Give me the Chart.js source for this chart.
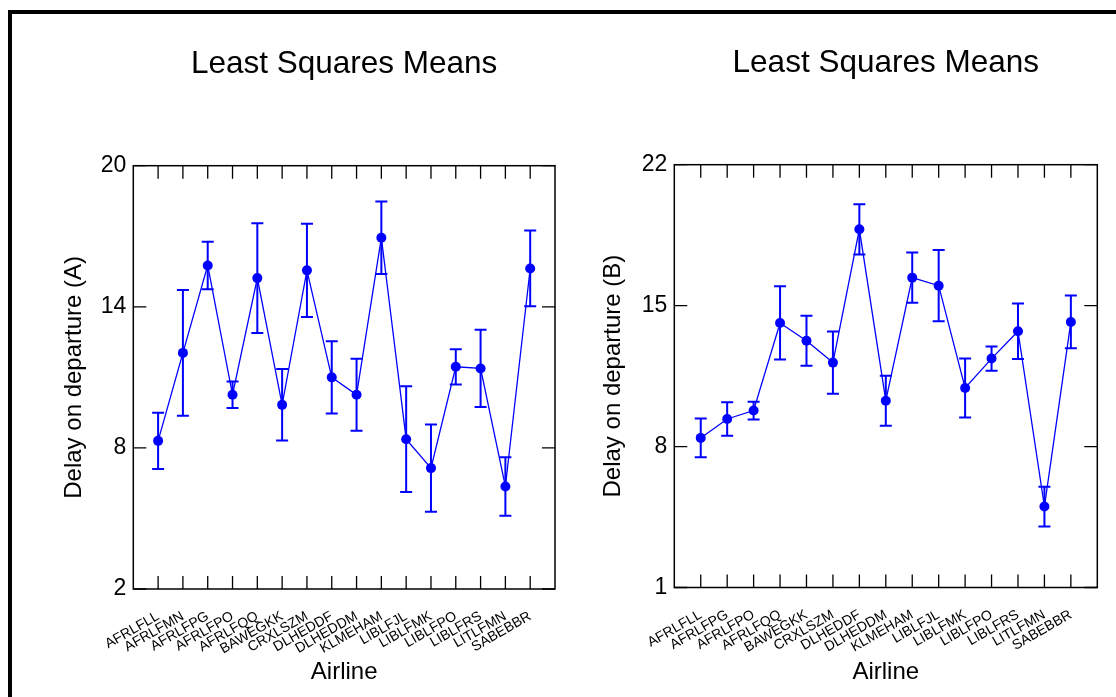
<!DOCTYPE html>
<html>
<head>
<meta charset="utf-8">
<script src="https://cdn.jsdelivr.net/npm/chart.js@4/dist/chart.umd.min.js"></script>
<style>
  html, body { margin: 0; padding: 0; background: #fff; overflow: hidden; }
  #page { position: relative; width: 1116px; height: 697px; }
  canvas { position: absolute; top: 0; }
  #frame {
    position: absolute; left: 8px; top: 10px; width: 1120px; height: 700px;
    border: 4px solid #000; pointer-events: none;
  }
</style>
</head>
<body>
<div id="page">
  <canvas id="chartA" width="560" height="697" style="left:0;width:560px;height:697px"></canvas>
  <canvas id="chartB" width="556" height="697" style="left:560px;width:556px;height:697px"></canvas>
  <div id="frame"></div>
</div>
<script>
/**************************************************
 DATA
**************************************************/
const airlinesA = ["AFRLFLL","AFRLFMN","AFRLFPG","AFRLFPO","AFRLFQQ","BAWEGKK","CRXLSZM","DLHEDDF",
                   "DLHEDDM","KLMEHAM","LIBLFJL","LIBLFMK","LIBLFPO","LIBLFRS","LITLFMN","SABEBBR"];
const meansA = [8.30, 12.04, 15.76, 10.26, 15.22, 9.83, 15.55, 11.00, 10.26, 16.94, 8.37, 7.14, 11.45, 11.38, 6.36, 15.63];
const errA   = [1.20, 2.67, 1.01, 0.56, 2.33, 1.52, 1.98, 1.54, 1.53, 1.54, 2.25, 1.86, 0.75, 1.64, 1.24, 1.61];
const yTicksA = [2, 8, 14, 20];

const airlinesB = ["AFRLFLL","AFRLFPG","AFRLFPO","AFRLFQQ","BAWEGKK","CRXLSZM","DLHEDDF","DLHEDDM",
                   "KLMEHAM","LIBLFJL","LIBLFMK","LIBLFPO","LIBLFRS","LITLFMN","SABEBBR"];
const meansB = [8.43, 9.37, 9.79, 14.14, 13.26, 12.17, 18.79, 10.28, 16.39, 15.99, 10.91, 12.37, 13.73, 5.02, 14.19];
const errB   = [0.96, 0.83, 0.44, 1.82, 1.24, 1.55, 1.25, 1.24, 1.25, 1.77, 1.47, 0.60, 1.38, 0.99, 1.31];
const yTicksB = [1, 8, 15, 22];

const TITLE = "Least Squares Means";
const BLUE = "#0000ff";
const FONT = "'Liberation Sans', Arial, sans-serif";

/**************************************************
 PLUGIN: error bars, title, box frame, inward ticks
**************************************************/
const lsmPlugin = {
  id: "lsm",
  beforeDatasetsDraw(chart) {
    const ctx = chart.ctx, xs = chart.scales.x, ys = chart.scales.y;
    const o = chart.options.plugins.lsm;
    ctx.save();
    ctx.strokeStyle = BLUE;
    ctx.lineWidth = 2;
    o.means.forEach((m, i) => {
      const x = xs.getPixelForValue(i);
      const yTop = ys.getPixelForValue(m + o.errs[i]);
      const yBot = ys.getPixelForValue(m - o.errs[i]);
      ctx.beginPath();
      ctx.moveTo(x, yTop); ctx.lineTo(x, yBot);
      ctx.moveTo(x - 6, yTop); ctx.lineTo(x + 6, yTop);
      ctx.moveTo(x - 6, yBot); ctx.lineTo(x + 6, yBot);
      ctx.stroke();
    });
    ctx.restore();
  },
  afterDraw(chart) {
    const ctx = chart.ctx, a = chart.chartArea;
    const xs = chart.scales.x, ys = chart.scales.y;
    const o = chart.options.plugins.lsm;
    const tl = 13;
    ctx.save();

    // title centred over the plot box
    ctx.fillStyle = "#000";
    ctx.font = "31.5px " + FONT;
    ctx.textAlign = "center";
    ctx.textBaseline = "middle";
    ctx.fillText(o.title, (a.left + a.right) / 2, o.titleY);

    ctx.strokeStyle = "#000";
    ctx.lineWidth = 1.5;
    ctx.strokeRect(a.left, a.top, a.right - a.left, a.bottom - a.top);
    ctx.lineWidth = 1.3;
    ctx.beginPath();
    o.means.forEach((_, i) => {
      const x = xs.getPixelForValue(i);
      ctx.moveTo(x, a.top); ctx.lineTo(x, a.top + tl);
      ctx.moveTo(x, a.bottom); ctx.lineTo(x, a.bottom - tl);
    });
    o.yTicks.forEach(v => {
      const y = ys.getPixelForValue(v);
      ctx.moveTo(a.left, y); ctx.lineTo(a.left + tl, y);
      ctx.moveTo(a.right, y); ctx.lineTo(a.right - tl, y);
    });
    ctx.stroke();
    ctx.restore();
  }
};

/**************************************************
 CHART BUILDER
**************************************************/
function lsmChart(id, names, means, errs, yTicks, yTitle, g) {
  const pts = means.map((v, i) => ({ x: i, y: v }));
  return new Chart(document.getElementById(id), {
    type: "line",
    data: {
      datasets: [{
        data: pts,
        borderColor: BLUE,
        backgroundColor: BLUE,
        borderWidth: 1.3,
        pointRadius: 5,
        pointBorderWidth: 0,
        pointBackgroundColor: BLUE,
        tension: 0
      }]
    },
    options: {
      responsive: false,
      animation: false,
      events: [],
      layout: { padding: { left: 0, right: g.padRight, top: g.top, bottom: 0 } },
      plugins: {
        legend: { display: false },
        tooltip: { enabled: false },
        title: { display: false },
        lsm: { means, errs, yTicks, title: TITLE, titleY: g.titleY }
      },
      scales: {
        x: {
          type: "linear",
          min: -1,
          max: names.length,
          grid: { display: false },
          border: { display: false },
          afterFit: s => { s.height = g.xHeight; s.paddingLeft = 0; s.paddingRight = 0; },
          ticks: {
            stepSize: 1,
            autoSkip: false,
            maxRotation: 30,
            minRotation: 30,
            padding: 11,
            color: "#000",
            font: { family: FONT, size: 14 },
            callback: v => names[v] || ""
          },
          title: {
            display: true,
            text: "Airline",
            color: "#000",
            font: { family: FONT, size: 24 },
            padding: { top: 0, bottom: 10.6 }
          }
        },
        y: {
          min: yTicks[0],
          max: yTicks[yTicks.length - 1],
          grid: { display: false, drawTicks: false },
          border: { display: false },
          afterFit: s => { s.width = g.yWidth; s.paddingTop = 0; s.paddingBottom = 0; },
          afterBuildTicks: s => { s.ticks = yTicks.map(v => ({ value: v })); },
          ticks: {
            padding: 7,
            color: "#000",
            font: { family: FONT, size: 23 }
          },
          title: {
            display: true,
            text: yTitle,
            color: "#000",
            font: { family: FONT, size: 24 },
            padding: { top: g.yTitlePad, bottom: 0 }
          }
        }
      }
    },
    plugins: [lsmPlugin]
  });
}

lsmChart("chartA", airlinesA, meansA, errA, yTicksA, "Delay on departure (A)",
  { padRight: 4, top: 165.7, titleY: 64, xHeight: 108, yWidth: 133.3, yTitlePad: 59.6 });

lsmChart("chartB", airlinesB, meansB, errB, yTicksB, "Delay on departure (B)",
  { padRight: 18.7, top: 164.7, titleY: 63, xHeight: 109.5, yWidth: 114.3, yTitlePad: 38.6 });
</script>
</body>
</html>
